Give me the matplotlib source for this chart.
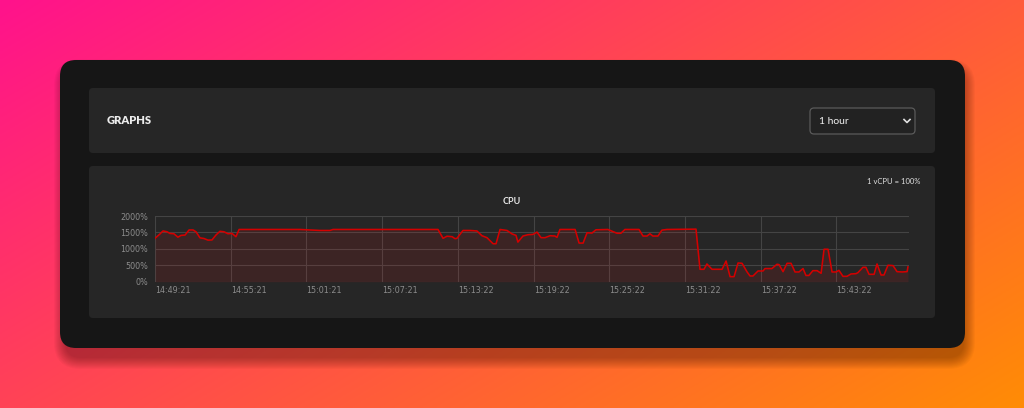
import matplotlib
import numpy as np
import pandas as pd
import matplotlib.pyplot as plt
from matplotlib.patches import FancyBboxPatch

matplotlib.use('Agg')

# seconds after the first sample (14:49:21) and CPU usage in percent
seconds = [0, 24, 38, 57, 71, 90, 109, 124, 143, 162, 181, 195, 214, 233, 252, 271,
           290, 309, 328, 347, 366, 385, 400, 690, 785, 832, 847, 1346, 1370, 1389,
           1413, 1427, 1436, 1465, 1498, 1531, 1555, 1579, 1608, 1622, 1641, 1674,
           1698, 1717, 1726, 1750, 1774, 1798, 1817, 1836, 1855, 1879, 1902, 1912,
           1926, 1998, 2017, 2036, 2055, 2078, 2097, 2154, 2197, 2216, 2235, 2302,
           2321, 2340, 2354, 2368, 2392, 2411, 2435, 2573, 2592, 2611, 2625, 2649,
           2697, 2716, 2735, 2754, 2773, 2792, 2816, 2830, 2844, 2868, 2892, 2901,
           2934, 2958, 2968, 2987, 3006, 3025, 3044, 3063, 3082, 3096, 3110, 3129,
           3149, 3168, 3182, 3201, 3220, 3239, 3253, 3272, 3291, 3310, 3334, 3343,
           3367, 3381, 3396, 3420, 3434, 3453, 3467, 3486, 3510, 3529, 3553, 3577,
           3581]
cpu = [1320, 1455, 1545, 1520, 1470, 1460, 1355, 1410, 1420, 1575, 1575, 1520, 1335,
       1315, 1265, 1270, 1420, 1535, 1520, 1460, 1470, 1370, 1590, 1590, 1560, 1560,
       1590, 1590, 1320, 1385, 1370, 1310, 1320, 1560, 1560, 1545, 1400, 1340, 1155,
       1155, 1590, 1560, 1455, 1410, 1205, 1390, 1430, 1440, 1510, 1340, 1340, 1400,
       1390, 1350, 1590, 1590, 1175, 1175, 1490, 1480, 1580, 1590, 1475, 1475, 1590,
       1590, 1390, 1390, 1460, 1390, 1390, 1570, 1590, 1600, 378, 378, 540, 378, 378,
       630, 153, 153, 570, 560, 296, 174, 174, 326, 326, 400, 400, 530, 520, 306, 560,
       560, 296, 296, 400, 190, 190, 336, 336, 255, 988, 988, 296, 296, 346, 163, 163,
       235, 245, 275, 438, 438, 225, 225, 540, 204, 204, 500, 490, 306, 296, 306, 450]

start_time = '14:49:21'
end_seconds = 3586
tick_times = ['14:49:21', '14:55:21', '15:01:21', '15:07:21', '15:13:22',
              '15:19:22', '15:25:22', '15:31:22', '15:37:22', '15:43:22']
y_ticks = [0, 500, 1000, 1500, 2000]

W, H = 1024, 408
fig = plt.figure(figsize=(W / 100, H / 100), dpi=100)

# page: gradient background and dashboard panels, in pixel units
bg = fig.add_axes([0, 0, 1, 1])
bg.set_xlim(0, W)
bg.set_ylim(H, 0)
bg.axis('off')

gx, gy = np.meshgrid(np.linspace(0, 1, 400), np.linspace(0, 1, 160))
t = np.clip((gx * 0.6 + gy * 0.4), 0, 1)
c0 = np.array([255, 18, 140]) / 255
c1 = np.array([255, 140, 5]) / 255
bg.imshow(c0 + (c1 - c0) * t[..., None], extent=[0, W, H, 0], aspect='auto', zorder=0)

# soft shadow under the panel
for i in range(12):
    bg.add_patch(FancyBboxPatch((60 - i + 5, 60 - i + 10), 905 + 2 * i - 6, 288 + 2 * i,
                                boxstyle='round,pad=0,rounding_size=%d' % (16 + i),
                                fc='#2a0a00', ec='none', alpha=0.03, zorder=1))

bg.add_patch(FancyBboxPatch((60, 60), 905, 288, boxstyle='round,pad=0,rounding_size=16',
                            fc='#161616', ec='none', zorder=2))
bg.add_patch(FancyBboxPatch((89, 88), 846, 65, boxstyle='round,pad=0,rounding_size=4',
                            fc='#262626', ec='none', zorder=3))
bg.add_patch(FancyBboxPatch((89, 166), 846, 152, boxstyle='round,pad=0,rounding_size=4',
                            fc='#262626', ec='none', zorder=3))
bg.add_patch(FancyBboxPatch((810, 108), 105, 26, boxstyle='round,pad=0,rounding_size=4',
                            fc='#222222', ec='#5a5a5a', lw=0.9, zorder=4))
bg.plot([904, 907, 910], [119.5, 122.5, 119.5], color='#e0e0e0', lw=1.2, zorder=5)

bg.text(107, 121, 'GRAPHS', fontsize=8, fontweight='heavy', color='#ececec',
        family='Lato', va='center', zorder=5)
bg.text(819, 121, '1 hour', fontsize=7.5, color='#f0f0f0', family='Lato',
        va='center', zorder=5)
bg.text(920, 182, '1 vCPU = 100%', fontsize=5.5, color='#e0e0e0', family='Lato',
        ha='right', va='center', zorder=5)
bg.text(512, 201, 'CPU', fontsize=6.5, fontweight='bold', color='#e6e6e6',
        family='Lato', ha='center', va='center', zorder=5)

# chart
ax = fig.add_axes([155 / W, 1 - 281.7 / H, 754 / W, 65.7 / H])
ax.set_facecolor('none')
ax.fill_between(seconds, cpu, 0, color='#ff1a1a', alpha=0.1, lw=0, zorder=2)
ax.plot(seconds, cpu, color='#d40000', lw=1.15, zorder=3)

tick_secs = (pd.to_datetime(tick_times, format='%H:%M:%S')
             - pd.to_datetime(start_time, format='%H:%M:%S')).total_seconds()
ax.set_xlim(0, end_seconds)
ax.set_ylim(0, 2000)
ax.set_xticks(tick_secs)
ax.set_xticklabels(tick_times)
ax.set_yticks(y_ticks)
ax.set_yticklabels(['%d%%' % v for v in y_ticks])
for lbl in ax.get_xticklabels():
    lbl.set_ha('left')

ax.grid(color='#444444', lw=0.8, zorder=1)
for s in ax.spines.values():
    s.set_visible(False)
ax.tick_params(length=0, colors='#8c8c8c', labelsize=5.8)
ax.tick_params(axis='y', pad=5)
ax.tick_params(axis='x', pad=3)

fig.savefig('out.png', dpi=100)
